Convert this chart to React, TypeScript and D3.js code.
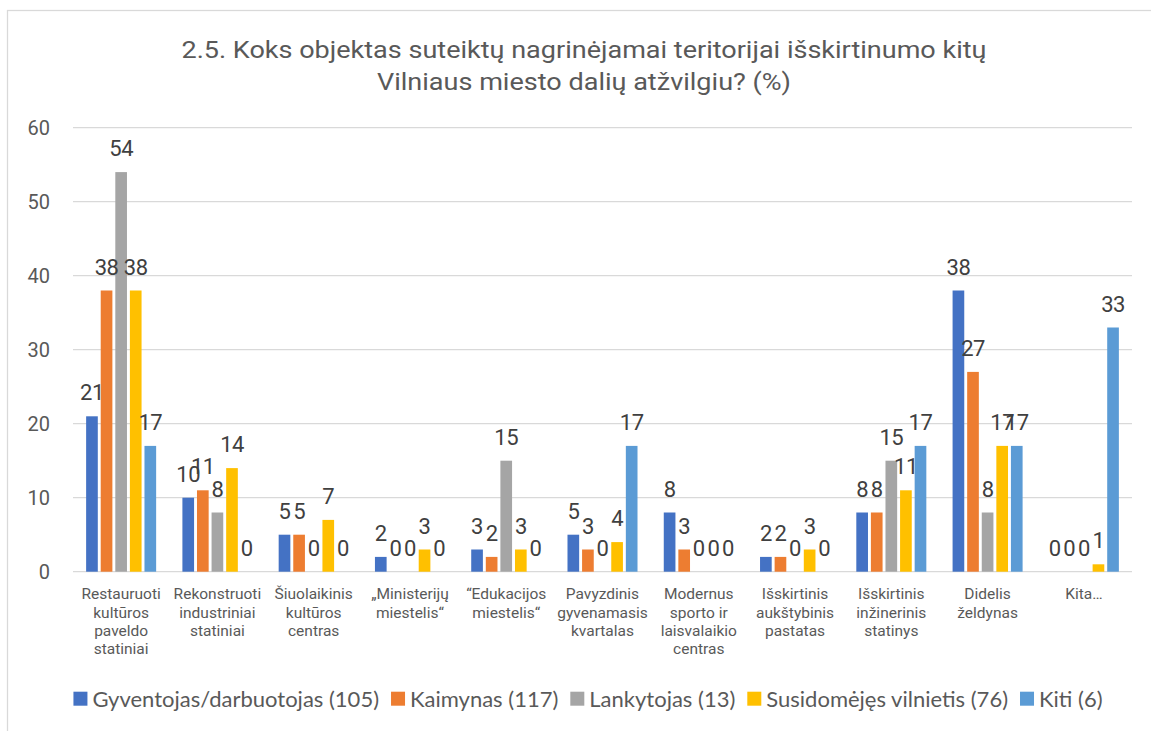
import React, { useEffect, useRef } from "react";
import * as d3 from "d3";

const W = 1151;
const H = 731;

const titleLines = [
  "2.5. Koks objektas suteiktų nagrinėjamai teritorijai išskirtinumo kitų",
  "Vilniaus miesto dalių atžvilgiu? (%)",
];

const categories = [
  "Restauruoti kultūros paveldo statiniai",
  "Rekonstruoti industriniai statiniai",
  "Šiuolaikinis kultūros centras",
  "„Ministerijų miestelis“",
  "“Edukacijos miestelis“",
  "Pavyzdinis gyvenamasis kvartalas",
  "Modernus sporto ir laisvalaikio centras",
  "Išskirtinis aukštybinis pastatas",
  "Išskirtinis inžinerinis statinys",
  "Didelis želdynas",
  "Kita…",
];

const categoryLines = [
  ["Restauruoti", "kultūros", "paveldo", "statiniai"],
  ["Rekonstruoti", "industriniai", "statiniai"],
  ["Šiuolaikinis", "kultūros", "centras"],
  ["„Ministerijų", "miestelis“"],
  ["“Edukacijos", "miestelis“"],
  ["Pavyzdinis", "gyvenamasis", "kvartalas"],
  ["Modernus", "sporto ir", "laisvalaikio", "centras"],
  ["Išskirtinis", "aukštybinis", "pastatas"],
  ["Išskirtinis", "inžinerinis", "statinys"],
  ["Didelis", "želdynas"],
  ["Kita…"],
];

const seriesNames = [
  "Gyventojas/darbuotojas (105)",
  "Kaimynas (117)",
  "Lankytojas (13)",
  "Susidomėjęs vilnietis (76)",
  "Kiti (6)",
];
const seriesColors = ["#4472C4", "#ED7D31", "#A5A5A5", "#FFC000", "#5B9BD5"];

const gyventojas = [21, 10, 5, 2, 3, 5, 8, 2, 8, 38, 0];
const kaimynas = [38, 11, 5, 0, 2, 3, 3, 2, 8, 27, 0];
const lankytojas = [54, 8, 0, 0, 15, 0, 0, 0, 15, 8, 0];
const susidomejes = [38, 14, 7, 3, 3, 4, 0, 3, 11, 17, 1];
const kiti = [17, 0, 0, 0, 0, 17, 0, 0, 17, 17, 33];

const seriesValues = [gyventojas, kaimynas, lankytojas, susidomejes, kiti];
const yTicks = [0, 10, 20, 30, 40, 50, 60];

const DIN = "Roboto, 'DejaVu Sans', sans-serif";
const LEG = "Lato, 'Open Sans', sans-serif";

export default function App() {
  const ref = useRef<SVGSVGElement | null>(null);

  useEffect(() => {
    document.body.style.margin = "0";
    const svg = d3.select(ref.current);
    svg.selectAll("*").remove();

    // frame
    svg
      .append("rect")
      .attr("x", 7.5)
      .attr("y", 10.5)
      .attr("width", 1170)
      .attr("height", 740)
      .attr("fill", "#fff")
      .attr("stroke", "#d9d9d9")
      .attr("stroke-width", 1.25);

    // title
    const tw = [805, 414];
    svg
      .append("g")
      .selectAll("text")
      .data(titleLines)
      .join("text")
      .attr("x", 584)
      .attr("y", (_d, i) => 58 + i * 31.5)
      .attr("text-anchor", "middle")
      .attr("font-family", DIN)
      .attr("font-size", 23)
      .attr("fill", "#595959")
      .attr("textLength", (_d, i) => tw[i])
      .attr("lengthAdjust", "spacingAndGlyphs")
      .text((d) => d);

    const y = d3.scaleLinear().domain([0, 60]).range([571.7, 127.7]);
    const x0 = d3.scaleBand<string>().domain(categories).range([73, 1132]).padding(0);
    const x1 = d3
      .scaleBand<number>()
      .domain(d3.range(seriesNames.length))
      .range([0, x0.bandwidth()])
      .paddingInner(0.2)
      .paddingOuter(0.9);

    // gridlines
    svg
      .append("g")
      .selectAll("line")
      .data(yTicks)
      .join("line")
      .attr("x1", 73)
      .attr("x2", 1132)
      .attr("y1", (d) => y(d))
      .attr("y2", (d) => y(d))
      .attr("stroke", "#d9d9d9")
      .attr("stroke-width", 1.3);

    // y tick labels
    svg
      .append("g")
      .selectAll("text")
      .data(yTicks)
      .join("text")
      .attr("x", 50)
      .attr("y", (d) => y(d) + 7.5)
      .attr("text-anchor", "end")
      .attr("font-family", DIN)
      .attr("font-size", 20)
      .attr("fill", "#595959")
      .text((d) => String(d));

    // bars
    const groups = svg
      .append("g")
      .selectAll("g")
      .data(seriesValues)
      .join("g")
      .attr("fill", (_d, i) => seriesColors[i]);

    groups.each(function (vals, si) {
      const g = d3.select(this);
      g.selectAll("rect")
        .data(vals)
        .join("rect")
        .attr("x", (_v, ci) => (x0(categories[ci]) as number) + (x1(si) as number))
        .attr("width", x1.bandwidth())
        .attr("y", (v) => y(v))
        .attr("height", (v) => y(0) - y(v));
    });

    // data labels
    const labels = svg.append("g");
    seriesValues.forEach((vals, si) => {
      labels
        .append("g")
        .selectAll("text")
        .data(vals)
        .join("text")
        .attr(
          "x",
          (_v, ci) => (x0(categories[ci]) as number) + (x1(si) as number) + x1.bandwidth() / 2
        )
        .attr("y", (v) => y(v) - 16)
        .attr("text-anchor", "middle")
        .attr("font-family", DIN)
        .attr("font-size", 22)
        .attr("letter-spacing", -0.5)
        .attr("fill", "#404040")
        .text((v) => String(v));
    });

    // category labels
    const cl = svg
      .append("g")
      .selectAll("text")
      .data(categoryLines)
      .join("text")
      .attr("text-anchor", "middle")
      .attr("font-family", DIN)
      .attr("font-size", 15.5)
      .attr("fill", "#595959");
    cl.each(function (lines, ci) {
      const t = d3.select(this);
      const cx = (x0(categories[ci]) as number) + x0.bandwidth() / 2;
      t.selectAll("tspan")
        .data(lines)
        .join("tspan")
        .attr("x", cx)
        .attr("y", (_l, li) => 599.3 + li * 18.3)
        .text((l) => l);
    });

    // legend
    const leg = svg.append("g");
    const items = leg.selectAll("g").data(seriesNames).join("g");
    items
      .append("rect")
      .attr("width", 14)
      .attr("height", 14)
      .attr("y", 691.7)
      .attr("fill", (_d, i) => seriesColors[i]);
    items
      .append("text")
      .attr("y", 706.5)
      .attr("font-family", LEG)
      .attr("font-size", 22)
      .attr("fill", "#595959")
      .text((d) => d);
    const widths: number[] = [];
    items.select("text").each(function () {
      widths.push((this as SVGTextElement).getComputedTextLength());
    });
    const sq = 14, gap = 5, itemGap = 12;
    const total = d3.sum(widths) + widths.length * (sq + gap) + (widths.length - 1) * itemGap;
    let cx = 588 - total / 2;
    items.each(function (_d, i) {
      const g = d3.select(this);
      g.select("rect").attr("x", cx);
      g.select("text").attr("x", cx + sq + gap);
      cx += sq + gap + widths[i] + itemGap;
    });
  }, []);

  return <svg ref={ref} width={W} height={H} style={{ display: "block" }} />;
}
